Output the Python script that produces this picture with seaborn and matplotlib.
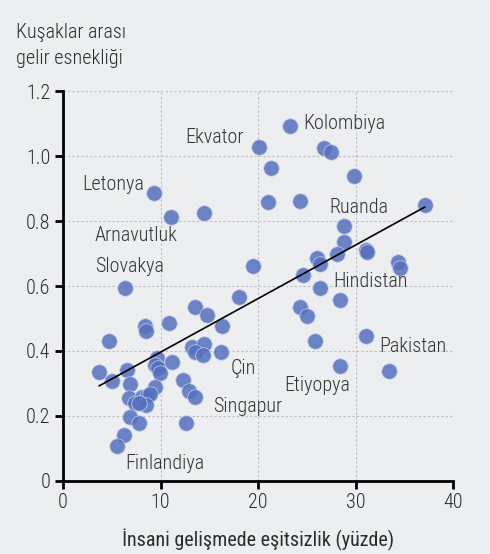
import matplotlib
matplotlib.use("Agg")
import matplotlib.pyplot as plt
import seaborn as sns
import numpy as np
import pandas as pd

x_vals = [23.3, 20.1, 26.8, 27.5, 21.3, 29.8, 9.3, 21.0, 24.3, 11.1, 14.5, 37.1,
          28.8, 28.8, 31.1, 31.2, 34.4, 34.6, 28.1, 26.0, 26.4, 19.5, 24.6, 26.4,
          28.4, 24.3, 25.0, 25.8, 31.1, 28.4, 33.4, 6.4, 18.0, 13.5, 14.8, 16.3,
          8.4, 8.5, 10.9, 4.7, 13.2, 14.5, 13.5, 14.4, 16.2, 3.7, 5.0, 6.6, 6.9,
          9.6, 9.4, 9.7, 9.95, 11.2, 9.4, 12.3, 12.9, 13.5, 6.8, 7.4, 8.1, 8.6,
          8.9, 8.5, 7.8, 6.9, 7.8, 12.6, 6.3, 5.5]
y_vals = [1.093, 1.028, 1.024, 1.012, 0.962, 0.938, 0.885, 0.858, 0.862, 0.813, 0.824, 0.850,
          0.786, 0.734, 0.712, 0.704, 0.675, 0.654, 0.698, 0.685, 0.667, 0.663, 0.634, 0.593,
          0.557, 0.534, 0.508, 0.431, 0.446, 0.353, 0.338, 0.594, 0.567, 0.534, 0.512, 0.477,
          0.477, 0.460, 0.486, 0.432, 0.413, 0.422, 0.398, 0.388, 0.397, 0.336, 0.309, 0.342, 0.298,
          0.379, 0.357, 0.347, 0.331, 0.365, 0.288, 0.311, 0.278, 0.257, 0.256, 0.241, 0.259, 0.262,
          0.267, 0.234, 0.239, 0.198, 0.179, 0.177, 0.142, 0.108]

labels = ["Ekvator", "Kolombiya", "Letonya", "Arnavutluk", "Slovakya", "Ruanda",
          "Hindistan", "Pakistan", "Etiyopya", "Çin", "Singapur", "Finlandiya"]
label_x = [18.5, 24.6, 8.3, 3.2, 3.3, 27.3, 27.7, 32.4, 22.7, 17.2, 15.35, 6.4]
label_y = [1.057, 1.10, 0.913, 0.755, 0.66, 0.842, 0.613, 0.415, 0.295, 0.347, 0.229, 0.054]
label_ha = ["right", "left", "right", "left", "left", "left", "left", "left", "left", "left", "left", "left"]

x_ticks = [0, 10, 20, 30, 40]
y_ticks = [0, 0.2, 0.4, 0.6, 0.8, 1.0, 1.2]
y_ticklabels = ["0", "0.2", "0.4", "0.6", "0.8", "1.0", "1.2"]

bg = "#edeef0"
sns.set_theme(style="white")
plt.rcParams["font.family"] = ["Roboto Condensed", "DejaVu Sans"]
plt.rcParams["font.weight"] = "light"
FS = 14.5
TXT = "#2b2b2b"

df = pd.DataFrame({"x": x_vals, "y": y_vals})

fig = plt.figure(figsize=(4.9, 5.54), dpi=100, facecolor=bg)
ax = fig.add_axes([0.1286, 0.1318, 0.7959, 0.7039])
ax.set_facecolor(bg)

sns.regplot(data=df, x="x", y="y", ax=ax, ci=None, truncate=True,
            scatter_kws=dict(s=125, color="#5470bd", alpha=0.85, edgecolor="#c8d2ee",
                             linewidths=0.6, zorder=3),
            line_kws=dict(color="black", lw=1.2, zorder=4))

ax.set_xlim(0, 40)
ax.set_ylim(0, 1.2)
ax.set_xticks(x_ticks)
ax.set_yticks(y_ticks)
ax.set_yticklabels(y_ticklabels)
ax.grid(True, color="#babdc2", linestyle=(0, (2, 2)), linewidth=0.8, zorder=0)
ax.set_axisbelow(True)
for s in ["top", "right"]:
    ax.spines[s].set_visible(False)
for s in ["left", "bottom"]:
    ax.spines[s].set_color("black")
    ax.spines[s].set_linewidth(2)
ax.tick_params(axis="both", direction="out", length=6, width=2, color="black",
               labelsize=FS, labelcolor=TXT, pad=3)
ax.tick_params(axis="y", left=True)
ax.tick_params(axis="x", bottom=True)
ax.set_xlabel("İnsani gelişmede eşitsizlik (yüzde)", fontsize=FS, color=TXT, labelpad=12)
ax.set_ylabel("")

for t, lx, ly, ha in zip(labels, label_x, label_y, label_ha):
    ax.text(lx, ly, t, fontsize=FS, color="#333333", ha=ha, va="center", zorder=5)

fig.text(16 / 490, 1 - 33 / 554, "Kuşaklar arası", fontsize=FS, color=TXT, ha="left", va="center")
fig.text(16 / 490, 1 - 58 / 554, "gelir esnekliği", fontsize=FS, color=TXT, ha="left", va="center")

fig.savefig("out.png", dpi=100, facecolor=bg)
